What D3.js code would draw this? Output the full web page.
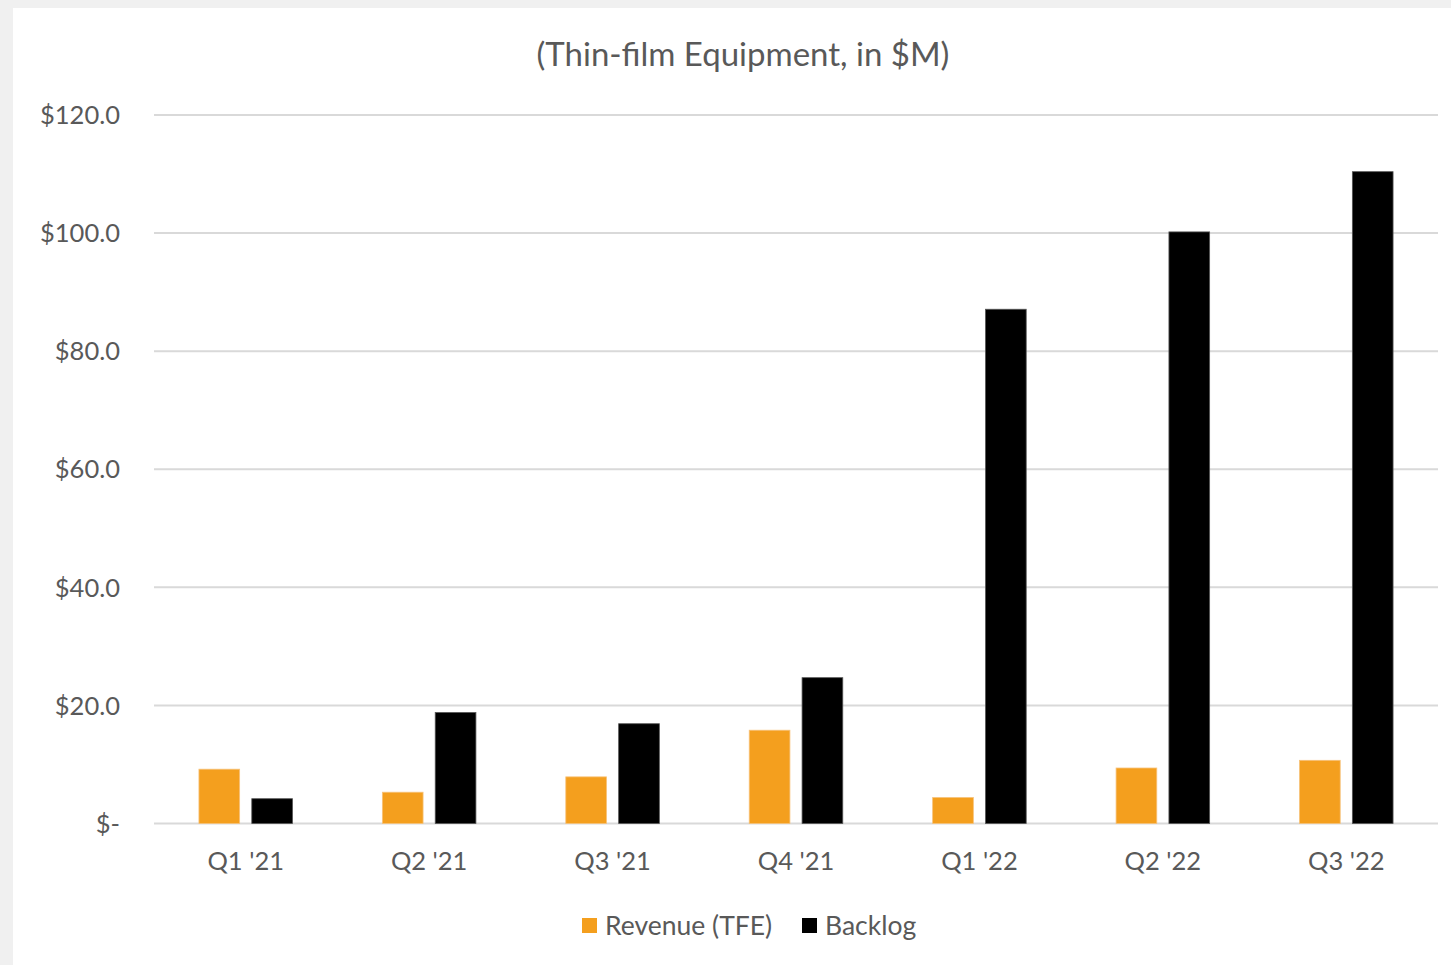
<!DOCTYPE html>
<html lang="en">
<head>
  <meta charset="UTF-8" />
  <title>Thin-film Equipment</title>
  <script src="https://d3js.org/d3.v7.min.js"></script>
  <style>
    body {
      margin: 0;
      background: #f0f0f0;
      font-family: Lato, "Open Sans", sans-serif;
    }
    text {
      fill: #595959;
    }
  </style>
</head>
<body>
  <svg width="1451" height="965"></svg>

  <script>
    const quarters = ["Q1 '21", "Q2 '21", "Q3 '21", "Q4 '21", "Q1 '22", "Q2 '22", "Q3 '22"];
    const revenue = [9.2, 5.3, 7.9, 15.8, 4.4, 9.4, 10.7];
    const backlog = [4.2, 18.8, 16.9, 24.7, 87.1, 100.2, 110.4];
    const seriesNames = ["Revenue (TFE)", "Backlog"];
    const yTicks = [0, 20, 40, 60, 80, 100, 120];

    const width = 1451;
    const height = 965;
    const margin = { top: 115, right: 13, bottom: 141, left: 154 };

    const svg = d3.select("svg");

    // white chart panel
    svg.append("rect")
      .attr("x", 13).attr("y", 8)
      .attr("width", width - 13).attr("height", height - 8)
      .attr("fill", "#fff");

    const x = d3.scaleBand()
      .domain(quarters)
      .range([margin.left, width - margin.right])
      .paddingInner(0.49)
      .paddingOuter(0.245);

    const x1 = d3.scaleBand()
      .domain(seriesNames)
      .range([0, x.bandwidth()])
      .paddingInner(0.23);

    const y = d3.scaleLinear()
      .domain([0, 120])
      .range([height - margin.bottom - 0.5, margin.top]);

    const color = d3.scaleOrdinal()
      .domain(seriesNames)
      .range(["#f49f1e", "#000000"]);

    // gridlines
    svg.append("g")
      .selectAll("line")
      .data(yTicks)
      .join("line")
      .attr("x1", margin.left)
      .attr("x2", width - margin.right)
      .attr("y1", d => y(d))
      .attr("y2", d => y(d))
      .attr("stroke", "#d9d9d9")
      .attr("stroke-width", 2);

    // y labels
    svg.append("g")
      .selectAll("text")
      .data(yTicks)
      .join("text")
      .attr("x", 120)
      .attr("y", d => y(d))
      .attr("dy", "0.36em")
      .attr("text-anchor", "end")
      .style("font-size", "25.5px")
      .text(d => d === 0 ? "$-" : "$" + d3.format(".1f")(d));

    const table = quarters.map((q, i) => ({
      quarter: q,
      values: [
        { name: seriesNames[0], value: revenue[i] },
        { name: seriesNames[1], value: backlog[i] }
      ]
    }));

    const groups = svg.append("g")
      .selectAll("g")
      .data(table)
      .join("g")
      .attr("transform", d => `translate(${x(d.quarter)},0)`);

    groups.selectAll("rect")
      .data(d => d.values)
      .join("rect")
      .attr("x", d => x1(d.name))
      .attr("width", x1.bandwidth())
      .attr("y", d => y(d.value))
      .attr("height", d => y(0) - y(d.value))
      .attr("fill", d => color(d.name))
      .attr("stroke", d => d.name === "Backlog" ? "#555" : "#f7c27a")
      .attr("stroke-width", 0.8);

    // x labels
    svg.append("g")
      .selectAll("text")
      .data(quarters)
      .join("text")
      .attr("x", d => x(d) + x.bandwidth() / 2)
      .attr("y", 870)
      .attr("text-anchor", "middle")
      .style("font-size", "25.5px")
      .text(d => d);

    // title
    svg.append("text")
      .attr("x", 743)
      .attr("y", 66)
      .attr("text-anchor", "middle")
      .style("font-size", "33px")
      .text("(Thin-film Equipment, in $M)");

    // legend
    const legendX = [582, 802];
    const legend = svg.append("g")
      .selectAll("g")
      .data(seriesNames)
      .join("g")
      .attr("transform", (d, i) => `translate(${legendX[i]},918)`);

    legend.append("rect")
      .attr("width", 15)
      .attr("height", 15)
      .attr("fill", d => color(d));

    legend.append("text")
      .attr("x", 23)
      .attr("y", 17)
      .style("font-size", "26.5px")
      .text(d => d);
  </script>
</body>
</html>
